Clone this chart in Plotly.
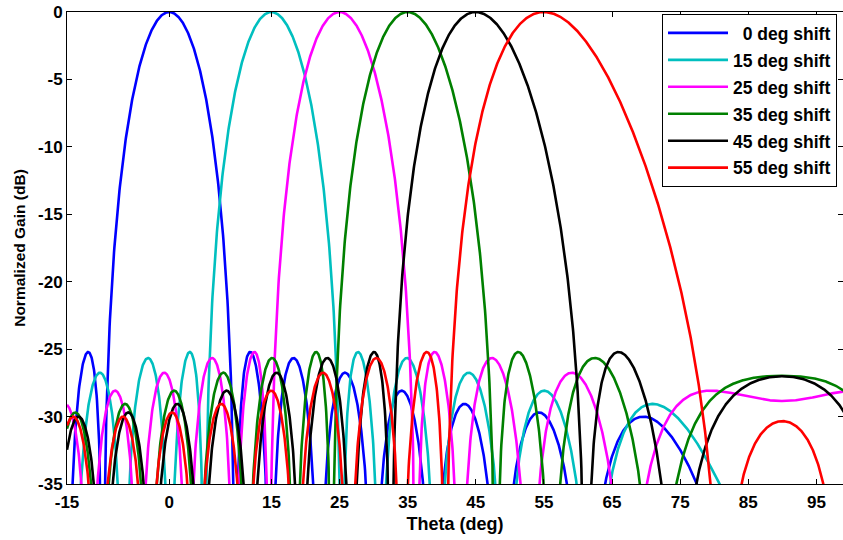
import numpy as np
import plotly.graph_objects as go

# Beam steering angles and legend entries
STEER_DEG = [0, 15, 25, 35, 45, 55]
SERIES_NAMES = ["\u20070 deg shift", "15 deg shift", "25 deg shift",
                "35 deg shift", "45 deg shift", "55 deg shift"]
LINE_COLORS = ["#0000FF", "#00BFBF", "#FF00FF", "#008000", "#000000", "#FF0000"]

# Linear array: 16 elements, half-wavelength spacing, Taylor taper (-25 dB, nbar = 3)
N_ELEMENTS = 16
SPACING_WL = 0.5
TAYLOR_SLL_DB = 25
TAYLOR_NBAR = 3

X_TICKS = [-15, 0, 15, 25, 35, 45, 55, 65, 75, 85, 95]
Y_TICKS = [0, -5, -10, -15, -20, -25, -30, -35]
X_RANGE = [-15, 98.9]
Y_RANGE = [-35, 0]


def taylor_taper(n, nbar, sll_db):
    a = np.arccosh(10 ** (sll_db / 20)) / np.pi
    sigma2 = nbar ** 2 / (a ** 2 + (nbar - 0.5) ** 2)
    ms = np.arange(1, nbar)
    fm = np.zeros(nbar - 1)
    for m in ms:
        numer = (-1) ** (m + 1) * np.prod(1 - m ** 2 / sigma2 / (a ** 2 + (ms - 0.5) ** 2))
        denom = 2 * np.prod([1 - m ** 2 / j ** 2 for j in ms if j != m])
        fm[m - 1] = numer / denom
    xi = (np.arange(n) - 0.5 * n + 0.5) / n
    return 1 + 2 * np.sum(fm[:, None] * np.cos(2 * np.pi * ms[:, None] * xi[None, :]), axis=0)


weights = taylor_taper(N_ELEMENTS, TAYLOR_NBAR, TAYLOR_SLL_DB)
positions = (np.arange(N_ELEMENTS) - (N_ELEMENTS - 1) / 2) * SPACING_WL
theta = np.arange(-15.0, 100.0 + 1e-9, 0.05)


def pattern_db(steer):
    du = np.sin(np.radians(theta)) - np.sin(np.radians(steer))
    af = np.abs(np.exp(2j * np.pi * np.outer(du, positions)) @ weights) / weights.sum()
    return 20 * np.log10(np.maximum(af, 1e-5))


fig = go.Figure()
for i, (steer, name, color) in enumerate(zip(STEER_DEG, SERIES_NAMES, LINE_COLORS)):
    fig.add_trace(go.Scatter(
        x=theta, y=pattern_db(steer), mode="lines", name=name,
        legendgroup=f"g{i}",
        line=dict(color=color, width=2.6),
    ))

font_family = "Liberation Sans, Arial, Helvetica, sans-serif"
fig.update_layout(
    width=843, height=540,
    margin=dict(l=67, r=0, t=12, b=56),
    paper_bgcolor="white", plot_bgcolor="white",
    font=dict(family=font_family, size=17, color="black", weight="bold"),
    xaxis=dict(
        range=X_RANGE, tickvals=X_TICKS, ticktext=[str(v) for v in X_TICKS],
        ticks="inside", ticklen=5, ticklabelstandoff=3,
        tickcolor="black", showline=True, linecolor="black", linewidth=1,
        mirror="ticks", showgrid=False, zeroline=False,
        tickfont=dict(size=17, weight="bold"),
        title=dict(text="Theta (deg)", font=dict(size=18, weight="bold"), standoff=5),
    ),
    yaxis=dict(
        range=Y_RANGE, tickvals=Y_TICKS, ticktext=[str(v) for v in Y_TICKS],
        ticks="inside", ticklen=5,
        tickcolor="black", showline=True, linecolor="black", linewidth=1,
        mirror="ticks", showgrid=False, zeroline=False,
        tickfont=dict(size=17, weight="bold"),
        title=dict(text="Normalized Gain (dB)", font=dict(size=15.5, weight="bold"), standoff=8),
    ),
    legend=dict(
        x=(662 - 67) / 776, y=1 - 2 / 472, xanchor="left", yanchor="top",
        bgcolor="white", bordercolor="black", borderwidth=1,
        font=dict(size=17.5, weight="bold"),
        tracegroupgap=1.2, traceorder="grouped",
        itemwidth=60, entrywidth=200,
    ),
    showlegend=True,
)

fig.write_html("out.html")
